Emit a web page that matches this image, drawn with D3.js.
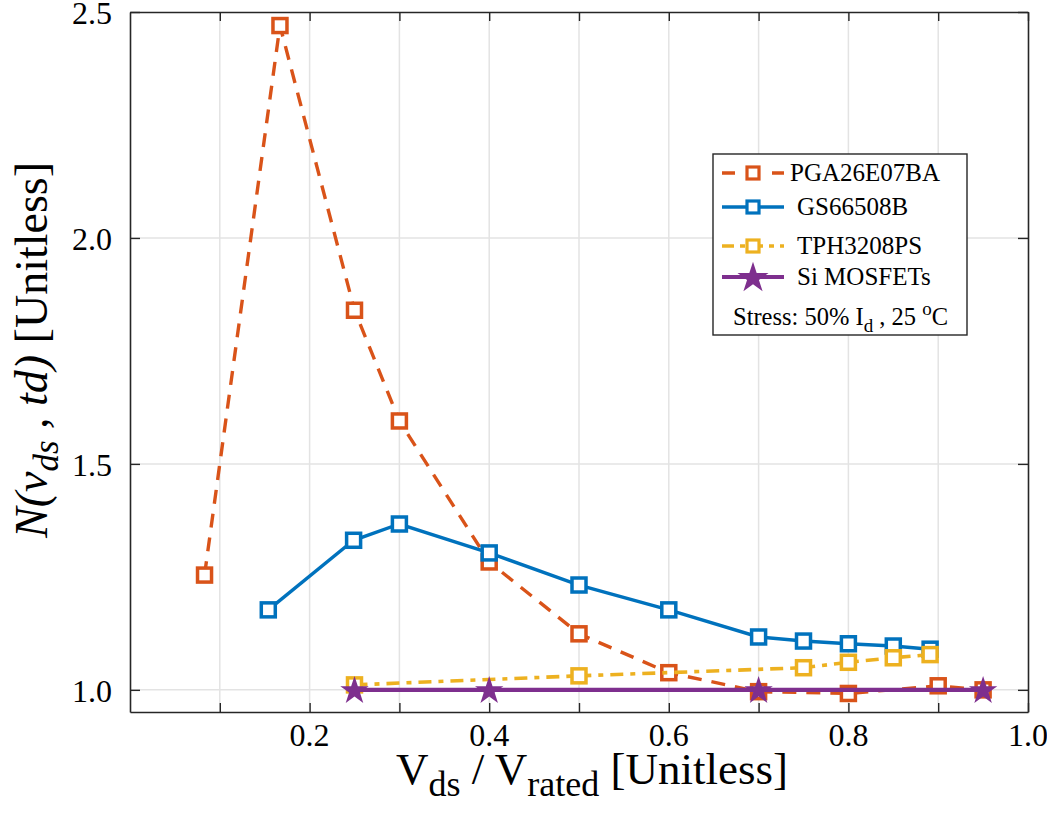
<!DOCTYPE html>
<html>
<head>
<meta charset="utf-8">
<script src="https://cdn.jsdelivr.net/npm/d3@7"></script>
<style>
  body { margin: 0; background: #fff; }
  svg text { font-family: "Liberation Serif", "Times New Roman", serif; fill: #000; }
</style>
</head>
<body>
<div id="chart"></div>
<script>
// data
var pgaX = [0.083, 0.167, 0.25, 0.3, 0.4, 0.5, 0.6, 0.7, 0.8, 0.9, 0.95];
var pgaY = [1.254, 2.47, 1.84, 1.595, 1.283, 1.124, 1.038, 0.996, 0.992, 1.009, 1.0];
var gsX = [0.154, 0.249, 0.3, 0.4, 0.5, 0.6, 0.7, 0.75, 0.8, 0.85, 0.891];
var gsY = [1.177, 1.331, 1.367, 1.303, 1.232, 1.177, 1.117, 1.108, 1.102, 1.097, 1.09];
var tphX = [0.25, 0.5, 0.75, 0.8, 0.85, 0.891];
var tphY = [1.011, 1.031, 1.049, 1.061, 1.071, 1.078];
var siX = [0.25, 0.4, 0.7, 0.95];
var siY = [1.0, 1.0, 1.0, 1.0];

var seriesNames = ["PGA26E07BA", "GS66508B", "TPH3208PS", "Si MOSFETs"];
var xTicks = [0.1, 0.2, 0.3, 0.4, 0.5, 0.6, 0.7, 0.8, 0.9, 1.0];
var xTickLabels = [0.2, 0.4, 0.6, 0.8, 1.0];
var yTicks = [1.0, 1.5, 2.0, 2.5];

var w = 1047, h = 813;
var plotLeft = 130, plotRight = 1028, plotTop = 12, plotBottom = 712;

var xScale = d3.scaleLinear().domain([0, 1]).range([plotLeft, plotRight]);
var yScale = d3.scaleLinear().domain([0.951, 2.5]).range([plotBottom, plotTop]);

var svg = d3.select("#chart").append("svg").attr("width", w).attr("height", h);

// grid
svg.append("g").selectAll("line").data(xTicks.slice(0, 9)).enter().append("line")
    .attr("x1", function (d) { return xScale(d); }).attr("x2", function (d) { return xScale(d); })
    .attr("y1", plotTop).attr("y2", plotBottom)
    .attr("stroke", "#e3e3e3").attr("stroke-width", 1.5);
svg.append("g").selectAll("line").data(yTicks.slice(0, 3)).enter().append("line")
    .attr("y1", function (d) { return yScale(d); }).attr("y2", function (d) { return yScale(d); })
    .attr("x1", plotLeft).attr("x2", plotRight)
    .attr("stroke", "#e3e3e3").attr("stroke-width", 1.5);

// axes with inward ticks
var fmt = d3.format(".1f");
var xAxisB = d3.axisBottom(xScale).tickValues(xTicks).tickSizeInner(-9).tickSizeOuter(0).tickFormat("");
var xAxisT = d3.axisTop(xScale).tickValues(xTicks).tickSizeInner(-9).tickSizeOuter(0).tickFormat("");
var yAxisL = d3.axisLeft(yScale).tickValues(yTicks).tickSizeInner(-10).tickSizeOuter(0).tickFormat("");
var yAxisR = d3.axisRight(yScale).tickValues(yTicks).tickSizeInner(-10).tickSizeOuter(0).tickFormat("");

[[xAxisB, "translate(0," + plotBottom + ")"], [xAxisT, "translate(0," + plotTop + ")"],
 [yAxisL, "translate(" + plotLeft + ",0)"], [yAxisR, "translate(" + plotRight + ",0)"]].forEach(function (a) {
    var g = svg.append("g").attr("transform", a[1]).call(a[0]);
    g.select(".domain").attr("stroke", "#262626").attr("stroke-width", 1.6);
    g.selectAll(".tick line").attr("stroke", "#262626").attr("stroke-width", 1.4);
});

// tick labels
svg.append("g").selectAll("text").data(xTickLabels).enter().append("text")
    .attr("x", function (d) { return xScale(d); })
    .attr("y", plotBottom + 34)
    .attr("text-anchor", "middle")
    .attr("font-size", "32px")
    .text(function (d) { return fmt(d); });

svg.append("g").selectAll("text").data(yTicks).enter().append("text")
    .attr("x", plotLeft - 18)
    .attr("y", function (d) { return yScale(d); })
    .attr("dy", "0.38em")
    .attr("text-anchor", "end")
    .attr("font-size", "32px")
    .text(function (d) { return fmt(d); });

// axis labels
var xl = svg.append("text")
    .attr("x", 592).attr("y", 784)
    .attr("text-anchor", "middle")
    .attr("font-size", "45px");
xl.append("tspan").text("V");
xl.append("tspan").attr("dy", 12).attr("font-size", "36px").text("ds");
xl.append("tspan").attr("dy", -12).text(" / V");
xl.append("tspan").attr("dy", 12).attr("font-size", "36px").text("rated");
xl.append("tspan").attr("dy", -12).text(" [Unitless]");

var yl = svg.append("text")
    .attr("transform", "translate(47,350) rotate(-90)")
    .attr("text-anchor", "middle")
    .attr("font-size", "46px");
yl.append("tspan").attr("font-style", "italic").text("N(v");
yl.append("tspan").attr("font-style", "italic").attr("dy", 11).attr("font-size", "35px").text("ds");
yl.append("tspan").attr("font-style", "italic").attr("dy", -11).text(" , td)");
yl.append("tspan").text(" [Unitless]");

// series
var colors = ["#D95319", "#0072BD", "#EDB120", "#7E2F8E"];
var dashes = ["14,10", null, "13,7,5,7", null];
var widths = [3.4, 3.4, 3.6, 4.2];
var xs = [pgaX, gsX, tphX, siX];
var ys = [pgaY, gsY, tphY, siY];

var line = d3.line()
    .x(function (d) { return xScale(d[0]); })
    .y(function (d) { return yScale(d[1]); });

var star = d3.symbol().type(d3.symbolStar).size(250);

xs.forEach(function (sx, k) {
    var pts = sx.map(function (x, i) { return [x, ys[k][i]]; });
    var g = svg.append("g");
    g.append("path")
        .attr("d", line(pts))
        .attr("fill", "none")
        .attr("stroke", colors[k])
        .attr("stroke-width", widths[k])
        .attr("stroke-dasharray", dashes[k]);
    if (k < 3) {
        g.selectAll("rect").data(pts).enter().append("rect")
            .attr("x", function (d) { return xScale(d[0]) - 7; })
            .attr("y", function (d) { return yScale(d[1]) - 7; })
            .attr("width", 14).attr("height", 14)
            .attr("fill", "white")
            .attr("stroke", colors[k])
            .attr("stroke-width", 3.5);
    } else {
        g.selectAll("path.star").data(pts).enter().append("path")
            .attr("class", "star")
            .attr("d", star)
            .attr("transform", function (d) { return "translate(" + xScale(d[0]) + "," + (yScale(d[1]) + 1) + ")"; })
            .attr("fill", colors[k]);
    }
});

// legend
var lg = svg.append("g");
lg.append("rect").attr("x", 713).attr("y", 154).attr("width", 254).attr("height", 181)
    .attr("fill", "white").attr("stroke", "#262626").attr("stroke-width", 1.4);
var rowY = [173, 207, 246, 277];
seriesNames.forEach(function (name, k) {
    var yy = rowY[k];
    lg.append("line").attr("x1", 722).attr("x2", 784).attr("y1", yy).attr("y2", yy)
        .attr("stroke", colors[k]).attr("stroke-width", widths[k])
        .attr("stroke-dasharray", k === 0 ? "13,12" : (k === 2 ? "12,6,5,6" : null));
    if (k < 3) {
        lg.append("rect").attr("x", 747).attr("y", yy - 6).attr("width", 12).attr("height", 12)
            .attr("fill", "white").attr("stroke", colors[k]).attr("stroke-width", 3.2);
    } else {
        lg.append("path").attr("d", d3.symbol().type(d3.symbolStar).size(300))
            .attr("transform", "translate(753," + (yy + 1) + ")").attr("fill", colors[k]);
    }
    lg.append("text").attr("x", k === 0 ? 790 : 797).attr("y", yy + 8)
        .attr("font-size", "25px").text(name);
});
var st = lg.append("text").attr("x", 733).attr("y", 325).attr("font-size", "24.5px");
st.append("tspan").text("Stress: 50% I");
st.append("tspan").attr("dy", 7).attr("font-size", "19px").text("d");
st.append("tspan").attr("dy", -7).text(" , 25 ");
st.append("tspan").attr("dy", -10).attr("font-size", "19px").text("o");
st.append("tspan").attr("dy", 10).text("C");
</script>
</body>
</html>
